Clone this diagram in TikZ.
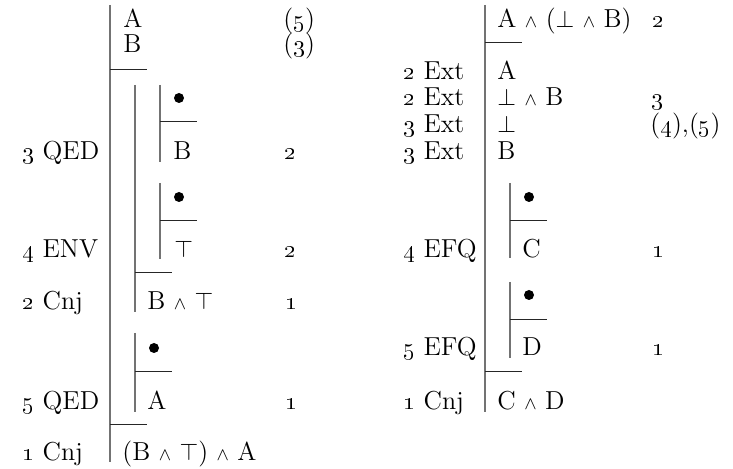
\documentclass[tikz,border=0pt]{standalone}
\usepackage{tikz}
\tikzstyle{frm}=[anchor=base west,inner sep=0pt]
\tikzstyle{dot}=[fill=black,circle,minimum size=5pt,inner sep=0pt]
\tikzstyle{bar}=[draw=black!55,line width=0.55pt]
\tikzstyle{hyp}=[draw=black!85,line width=0.5pt]
\newcommand{\os}[1]{\oldstylenums{#1}}
\newcommand{\cnj}{\ensuremath{\scriptstyle\wedge}}

\begin{document}
\begin{tikzpicture}[x=0.5pt,y=-0.5pt,font=\fontsize{13}{15}\selectfont]
\useasboundingbox (0,0) rectangle (733,469);
% left proof: bars
\draw[bar] (110,5) -- (110,462);
\draw[bar] (135,85) -- (135,312);
\draw[bar] (135,333) -- (135,412);
\draw[bar] (160,85) -- (160,162);
\draw[bar] (160,183) -- (160,259);
% left proof: hypothesis lines
\draw[hyp] (110,70) -- (147,70);
\draw[hyp] (160,122) -- (197,122);
\draw[hyp] (160,221) -- (197,221);
\draw[hyp] (135,273) -- (172,273);
\draw[hyp] (135,372) -- (172,372);
\draw[hyp] (110,425) -- (147,425);
% left proof: formulas
\node[frm] (a1) at (123,28) {A};
\node[frm] (a2) at (123,53) {B};
\node[dot] (a3) at (179,98) {};
\node[frm] (a4) at (173,160) {B};
\node[dot] (a5) at (179,197) {};
\node[frm] (a6) at (174,258) {$\top$};
\node[frm] (a7) at (147,310) {B \cnj{} $\top$};
\node[dot] (a8) at (154,348) {};
\node[frm] (a9) at (147,410) {A};
\node[frm] (a10) at (122,461) {(B \cnj{} $\top$) \cnj{} A};
% left proof: rules
\node[frm] (ra4) at (22,160) {\os{3} QED};
\node[frm] (ra6) at (22,258) {\os{4} ENV};
\node[frm] (ra7) at (22,310) {\os{2} Cnj};
\node[frm] (ra9) at (22,410) {\os{5} QED};
\node[frm] (ra10) at (22,461) {\os{1} Cnj};
% left proof: numbers
\node[frm] (na1) at (283,28) {(\os{5})};
\node[frm] (na2) at (283,53) {(\os{3})};
\node[frm] (na4) at (284,160) {\os{2}};
\node[frm] (na6) at (284,258) {\os{2}};
\node[frm] (na7) at (285,310) {\os{1}};
\node[frm] (na9) at (285,410) {\os{1}};

% right proof: bars
\draw[bar] (485,5) -- (485,412);
\draw[bar] (510,183) -- (510,258);
\draw[bar] (510,282) -- (510,358);
% right proof: hypothesis lines
\draw[hyp] (485,43) -- (522,43);
\draw[hyp] (510,221) -- (547,221);
\draw[hyp] (510,320) -- (547,320);
\draw[hyp] (485,372) -- (522,372);
% right proof: formulas
\node[frm] (b1) at (497,28) {A \cnj{} ($\bot$ \cnj{} B)};
\node[frm] (b2) at (497,80) {A};
\node[frm] (b3) at (497,106) {$\bot$ \cnj{} B};
\node[frm] (b4) at (497,133) {$\bot$};
\node[frm] (b5) at (497,160) {B};
\node[dot] (b6) at (529,197) {};
\node[frm] (b7) at (522,258) {C};
\node[dot] (b8) at (529,295) {};
\node[frm] (b9) at (522,356) {D};
\node[frm] (b10) at (497,410) {C \cnj{} D};
% right proof: rules
\node[frm] (rb2) at (403,80) {\os{2} Ext};
\node[frm] (rb3) at (403,106) {\os{2} Ext};
\node[frm] (rb4) at (403,133) {\os{3} Ext};
\node[frm] (rb5) at (403,160) {\os{3} Ext};
\node[frm] (rb7) at (403,258) {\os{4} EFQ};
\node[frm] (rb9) at (403,356) {\os{5} EFQ};
\node[frm] (rb10) at (403,410) {\os{1} Cnj};
% right proof: numbers
\node[frm] (nb1) at (652,28) {\os{2}};
\node[frm] (nb3) at (651,106) {\os{3}};
\node[frm] (nb4) at (650,133) {(\os{4}),(\os{5})};
\node[frm] (nb7) at (652,258) {\os{1}};
\node[frm] (nb9) at (652,356) {\os{1}};
\end{tikzpicture}
\end{document}
